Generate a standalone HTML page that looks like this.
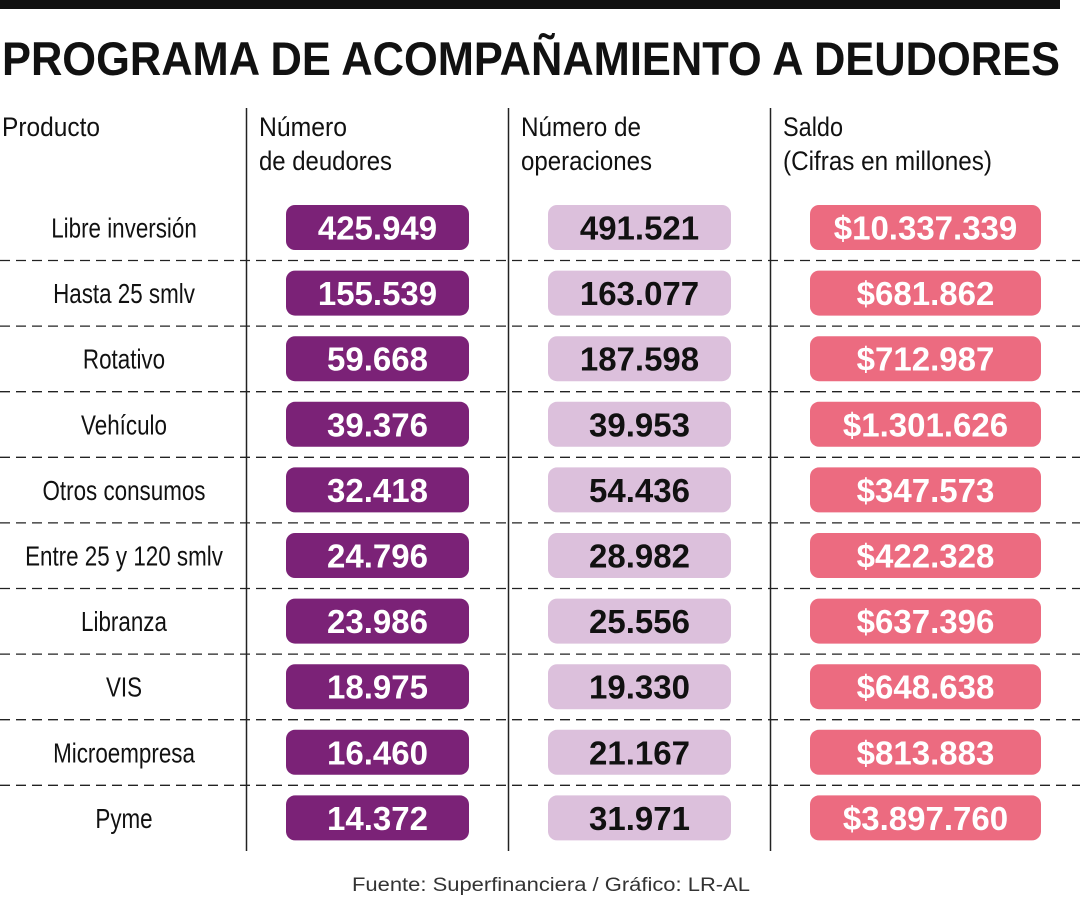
<!DOCTYPE html>
<html><head><meta charset="utf-8"><style>
html,body{margin:0;padding:0;background:#fff;}
svg{display:block;font-family:"Liberation Sans",sans-serif;}
</style></head><body>
<svg id="chart" width="1080" height="900" viewBox="0 0 1080 900" xmlns="http://www.w3.org/2000/svg">
<rect x="0" y="0" width="1060" height="9" fill="#111"/>
<text x="2" y="75" font-size="47" font-weight="bold" fill="#111" textLength="1058" lengthAdjust="spacingAndGlyphs">PROGRAMA DE ACOMPAÑAMIENTO A DEUDORES</text>
<g font-size="27" fill="#111">
<text x="2" y="136" textLength="98" lengthAdjust="spacingAndGlyphs">Producto</text>
<text x="259" y="136" textLength="88" lengthAdjust="spacingAndGlyphs">Número</text>
<text x="259" y="170" textLength="133" lengthAdjust="spacingAndGlyphs">de deudores</text>
<text x="521" y="136" textLength="120" lengthAdjust="spacingAndGlyphs">Número de</text>
<text x="521" y="170" textLength="131" lengthAdjust="spacingAndGlyphs">operaciones</text>
<text x="783" y="136" textLength="60" lengthAdjust="spacingAndGlyphs">Saldo</text>
<text x="783" y="170" textLength="209" lengthAdjust="spacingAndGlyphs">(Cifras en millones)</text>
</g>
<g stroke="#222" stroke-width="1.5">
<line x1="246.5" y1="108" x2="246.5" y2="851"/>
<line x1="508.5" y1="108" x2="508.5" y2="851"/>
<line x1="770.5" y1="108" x2="770.5" y2="851"/>
</g>
<g id="rows"></g>
<text x="551" y="891" font-size="19" fill="#333" text-anchor="middle" textLength="398" lengthAdjust="spacingAndGlyphs">Fuente: Superfinanciera / Gráfico: LR-AL</text>
</svg>
<script>
const products=["Libre inversión","Hasta 25 smlv","Rotativo","Vehículo","Otros consumos","Entre 25 y 120 smlv","Libranza","VIS","Microempresa","Pyme"];
const deudores=["425.949","155.539","59.668","39.376","32.418","24.796","23.986","18.975","16.460","14.372"];
const operaciones=["491.521","163.077","187.598","39.953","54.436","28.982","25.556","19.330","21.167","31.971"];
const saldo=["$10.337.339","$681.862","$712.987","$1.301.626","$347.573","$422.328","$637.396","$648.638","$813.883","$3.897.760"];
const NS="http://www.w3.org/2000/svg";
const g=document.getElementById('rows');
const rowY=i=>227.5+i*65.6;
function mk(tag,attrs){const e=document.createElementNS(NS,tag);for(const k in attrs)e.setAttribute(k,attrs[k]);return e;}
const cols=[{x:286,w:183,fill:"#7b2277",tc:"#fff",arr:deudores,n:"deudores"},{x:548,w:183,fill:"#dcc0dc",tc:"#111",arr:operaciones,n:"operaciones"},{x:810,w:231,fill:"#ec6b80",tc:"#fff",arr:saldo,n:"saldo"}];
products.forEach((p,i)=>{
 const y=rowY(i);
 const t=mk('text',{x:0,y:0,'font-size':28,fill:'#111','text-anchor':'middle',transform:'translate(124,'+(y+10)+') scale(0.8,1)'});
 
 
 t.textContent=p;
 g.appendChild(t);
 cols.forEach(c=>{
  const r=mk('rect',{x:c.x,y:y-22.5,width:c.w,height:45,rx:9,fill:c.fill});
  
  
  g.appendChild(r);
  const v=mk('text',{x:c.x+c.w/2,y:y+12,'font-size':33,'font-weight':'bold',fill:c.tc,'text-anchor':'middle'});
  
  
  v.textContent=c.arr[i];
  g.appendChild(v);
 });
 if(i<products.length-1){
  const l=mk('line',{x1:0,y1:y+33,x2:1080,y2:y+33,stroke:'#222','stroke-width':1.3,'stroke-dasharray':'10 6'});
  
  
  g.appendChild(l);
 }
});
</script>
</body></html>
